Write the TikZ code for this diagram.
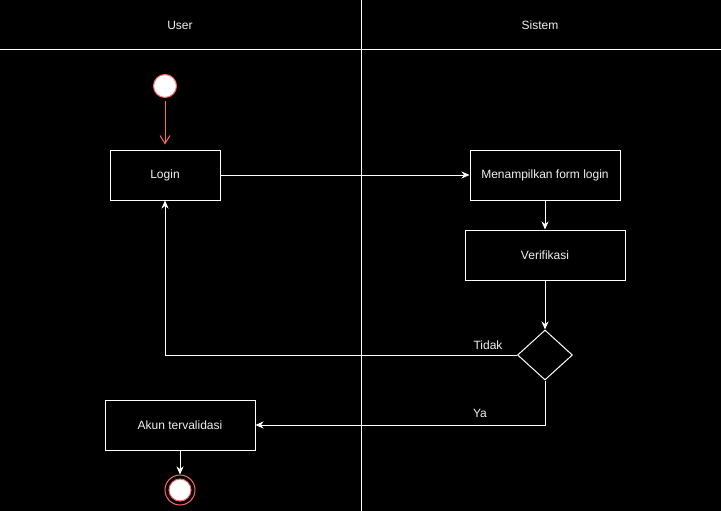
\documentclass[tikz,border=0pt]{standalone}
\usepackage{fontspec}
\setmainfont{Liberation Sans}
\usetikzlibrary{arrows.meta,shapes.geometric}
\definecolor{startred}{HTML}{FF6666}
\definecolor{labelgray}{HTML}{F0F0F0}

\begin{document}
\begin{tikzpicture}[x=1pt,y=-1pt,
		box/.style={draw=white,line width=1pt,minimum width=#1,minimum height=50pt,
			inner sep=0pt,text=labelgray,font=\fontsize{12}{14}\selectfont},
		lbl/.style={text=labelgray,inner sep=0pt,font=\fontsize{12}{14}\selectfont},
		flow/.style={draw=white,line width=1pt,-{Stealth[length=8pt,width=7pt,inset=2.5pt]}},
		lane/.style={draw=white,line width=1pt}]
		\useasboundingbox (0,0) rectangle (721,511);
		\fill[black] (0,0) rectangle (721,511);
		% swimlanes
		\draw[lane] (0,50) -- (721,50);
		\draw[lane] (361,0) -- (361,511);
		\node[lbl] (user) at (180,25) {User};
		\node[lbl] (sistem) at (540,25) {Sistem};
		% states and actions
		\node[circle,draw=startred,fill=white,line width=1pt,minimum size=23pt,inner sep=0pt] (start) at (165,86) {};
		\node[box=110pt] (login) at (165,175) {Login};
		\node[box=150pt] (form) at (545,175) {Menampilkan form login};
		\node[box=160pt] (verif) at (545,255) {Verifikasi};
		\node[diamond,draw=white,line width=1pt,minimum width=55pt,minimum height=50pt,inner sep=0pt] (cek) at (545,355) {};
		\node[box=150pt] (akun) at (180,425) {Akun tervalidasi};
		\node[circle,draw=startred,line width=1pt,minimum size=30pt,inner sep=0pt] (end) at (180,490) {};
		\node[circle,draw=startred,fill=white,line width=1pt,minimum size=22pt,inner sep=0pt] (endin) at (180,490) {};
		% flows
		\draw[draw=startred,line width=1pt,shorten <=3pt,shorten >=5pt,-{Straight Barb[length=8pt,width=10pt]}] (start) -- (login);
		\draw[flow] (login) -- (form);
		\draw[flow] (form) -- (verif);
		\draw[flow] (verif) -- (cek);
		\draw[flow] (cek.west) -| (login.south);
		\draw[flow] (cek.south) |- (akun.east);
		\draw[flow] (akun) -- (end);
		\node[lbl] (tidak) at (488,345) {Tidak};
		\node[lbl] (ya) at (480,413) {Ya};
	\end{tikzpicture}
\end{document}
